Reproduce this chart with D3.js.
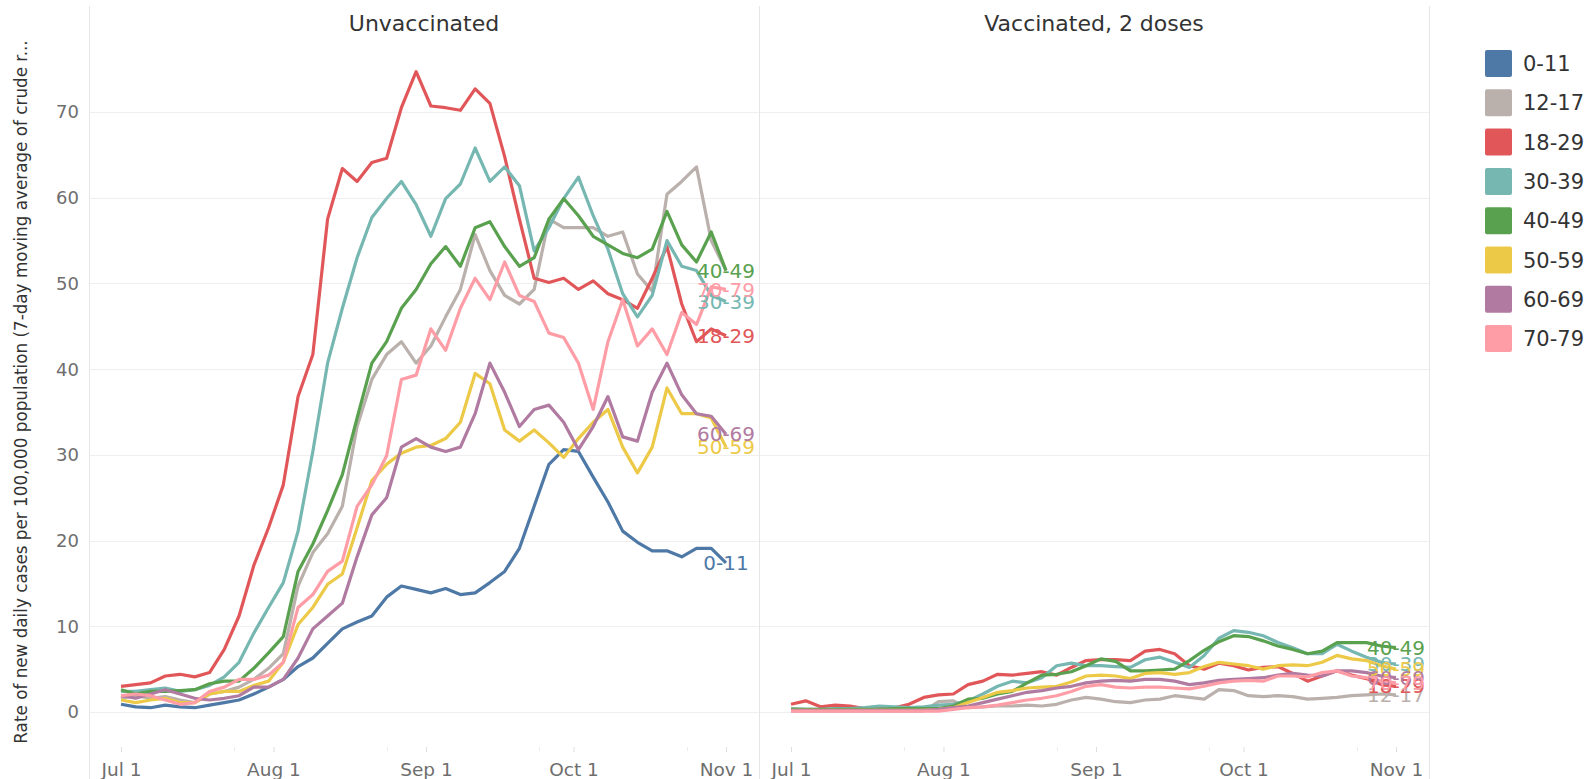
<!DOCTYPE html>
<html>
<head>
<meta charset="utf-8">
<script src="https://cdn.jsdelivr.net/npm/d3@7"></script>
<style>
  body { margin: 0; background: #fff; }
  text { font-family: "DejaVu Sans", sans-serif; }
</style>
</head>
<body>
<svg width="1588" height="779"></svg>
<script>
// dates, every third day from Jul 1 to Nov 1 2021
const dates = [
  "2021-07-01","2021-07-04","2021-07-07","2021-07-10","2021-07-13","2021-07-16","2021-07-19","2021-07-22",
  "2021-07-25","2021-07-28","2021-07-31","2021-08-03","2021-08-06","2021-08-09","2021-08-12","2021-08-15",
  "2021-08-18","2021-08-21","2021-08-24","2021-08-27","2021-08-30","2021-09-02","2021-09-05","2021-09-08",
  "2021-09-11","2021-09-14","2021-09-17","2021-09-20","2021-09-23","2021-09-26","2021-09-29","2021-10-02",
  "2021-10-05","2021-10-08","2021-10-11","2021-10-14","2021-10-17","2021-10-20","2021-10-23","2021-10-26",
  "2021-10-29","2021-11-01"
];

const ageGroups = ["0-11", "12-17", "18-29", "30-39", "40-49", "50-59", "60-69", "70-79"];
const ageColors = ["#4e79a7", "#bab0ac", "#e15759", "#76b7b2", "#59a14f", "#edc948", "#b07aa1", "#ff9da7"];

const yTicks = [0, 10, 20, 30, 40, 50, 60, 70];
const panelTitles = ["Unvaccinated", "Vaccinated, 2 doses"];

// Unvaccinated
const unvax0_11 = [0.9,0.6,0.5,0.8,0.6,0.5,0.8,1.1,1.4,2.1,2.9,3.8,5.3,6.3,8.0,9.7,
  10.5,11.2,13.4,14.7,14.3,13.9,14.4,13.7,13.9,15.1,16.4,19.1,24.0,28.9,
  30.6,30.4,27.4,24.5,21.1,19.8,18.8,18.8,18.1,19.1,19.1,17.4];
const unvax12_17 = [1.6,1.9,1.6,1.8,1.4,1.1,2.1,2.4,2.9,3.8,5.1,6.8,14.7,18.6,20.8,24.0,
  33.3,38.8,41.7,43.2,40.7,42.7,46.1,49.3,55.7,51.5,48.6,47.6,49.3,57.5,
  56.5,56.5,56.5,55.5,56.0,51.1,49.1,60.4,61.9,63.6,55.0,51.5];
const unvax18_29 = [3.0,3.2,3.4,4.2,4.4,4.1,4.6,7.3,11.2,17.1,21.5,26.5,36.8,41.7,57.5,63.4,
  61.9,64.1,64.6,70.5,74.7,70.7,70.5,70.2,72.7,71.0,64.8,57.5,50.6,50.1,
  50.6,49.3,50.3,48.8,48.1,47.1,50.6,54.3,47.6,43.2,44.7,43.9];
const unvax30_39 = [2.4,2.4,2.6,2.8,2.4,2.6,3.1,4.1,5.8,9.2,12.2,15.1,21.1,30.4,40.7,47.1,
  53.0,57.7,59.9,61.9,59.2,55.5,59.9,61.6,65.8,61.9,63.6,61.4,53.8,56.5,
  59.9,62.4,57.9,54.0,48.8,46.1,48.6,55.0,52.0,51.5,48.6,47.9];
const unvax40_49 = [2.6,2.1,2.4,2.4,2.5,2.6,3.3,3.6,3.6,5.1,6.9,8.8,16.4,19.6,23.5,27.7,
  34.3,40.7,43.2,47.1,49.3,52.3,54.3,52.0,56.5,57.2,54.3,52.0,53.0,57.5,
  59.9,57.9,55.5,54.5,53.5,53.0,54.0,58.4,54.5,52.5,56.0,51.5];
const unvax50_59 = [1.4,1.1,1.4,1.6,1.1,1.1,2.1,2.4,2.4,3.1,3.6,5.8,10.2,12.2,14.9,16.1,
  21.5,27.0,28.9,30.2,30.9,31.1,31.9,33.8,39.5,38.3,32.9,31.6,32.9,31.4,
  29.7,31.9,33.8,35.3,30.9,27.9,30.9,37.8,34.8,34.8,34.3,30.9];
const unvax60_69 = [1.9,1.6,2.1,2.6,2.1,1.6,1.4,1.6,1.9,2.9,2.9,3.8,6.3,9.7,11.2,12.7,
  18.1,23.0,25.0,30.9,31.9,30.9,30.4,30.9,34.8,40.7,37.3,33.3,35.3,35.8,
  33.8,30.6,33.3,36.8,32.1,31.6,37.3,40.7,37.0,34.8,34.5,32.4];
const unvax70_79 = [1.9,2.1,1.9,1.4,0.9,1.1,2.4,2.9,3.8,3.8,4.3,5.8,12.2,13.7,16.4,17.6,
  24.0,26.5,29.9,38.8,39.3,44.7,42.2,47.1,50.6,48.1,52.5,48.6,47.9,44.2,
  43.7,40.7,35.3,43.2,48.1,42.7,44.7,41.7,46.6,45.2,49.6,49.3];

// Vaccinated, 2 doses (no 0-11 series)
const vax12_17 = [0.1,0.1,0.1,0.1,0.1,0.1,0.1,0.1,0.1,0.1,1.2,1.3,0.5,0.6,0.7,0.7,
  0.8,0.7,0.9,1.4,1.7,1.5,1.2,1.1,1.4,1.5,1.9,1.7,1.5,2.6,
  2.5,1.9,1.8,1.9,1.8,1.5,1.6,1.7,1.9,2.0,2.1,2.0];
const vax18_29 = [0.9,1.3,0.6,0.8,0.7,0.4,0.4,0.5,0.9,1.7,2.0,2.1,3.2,3.6,4.4,4.3,
  4.5,4.7,4.3,5.2,6.0,6.1,6.1,6.0,7.1,7.3,6.8,5.4,5.0,5.7,
  5.4,4.9,5.2,5.3,4.5,3.6,4.2,4.8,4.3,3.9,3.2,3.0];
const vax30_39 = [0.4,0.3,0.3,0.4,0.4,0.5,0.7,0.6,0.5,0.6,0.8,0.9,1.3,2.1,3.0,3.6,
  3.4,4.0,5.4,5.7,5.4,5.4,5.3,5.2,6.1,6.4,5.8,5.2,6.6,8.6,
  9.5,9.3,8.9,8.1,7.5,6.8,6.8,7.9,7.1,6.4,5.8,5.6];
const vax40_49 = [0.3,0.3,0.3,0.3,0.3,0.3,0.3,0.4,0.4,0.4,0.4,0.7,1.5,1.6,2.1,2.4,
  3.4,4.3,4.4,4.7,5.4,6.2,5.9,4.8,4.8,4.9,5.0,6.0,7.2,8.2,
  8.9,8.8,8.3,7.7,7.3,6.8,7.1,8.1,8.1,8.1,7.7,7.5];
const vax50_59 = [0.2,0.2,0.2,0.2,0.2,0.2,0.2,0.2,0.2,0.2,0.3,0.5,1.1,1.7,2.3,2.5,
  2.8,2.9,3.0,3.5,4.2,4.3,4.2,3.9,4.5,4.6,4.4,4.6,5.3,5.8,
  5.6,5.4,5.0,5.4,5.5,5.4,5.8,6.6,6.2,6.0,5.4,5.0];
const vax60_69 = [0.2,0.2,0.2,0.2,0.2,0.2,0.2,0.2,0.2,0.2,0.3,0.5,0.7,1.1,1.5,1.9,
  2.3,2.5,2.8,3.0,3.4,3.6,3.7,3.6,3.8,3.8,3.6,3.2,3.4,3.7,
  3.8,3.9,4.0,4.3,4.5,4.3,4.2,4.8,4.8,4.6,4.2,4.0];
const vax70_79 = [0.1,0.1,0.1,0.1,0.1,0.1,0.1,0.1,0.1,0.1,0.1,0.3,0.5,0.6,0.8,1.1,
  1.4,1.6,1.9,2.4,3.0,3.2,2.9,2.8,2.9,2.9,2.8,2.7,3.0,3.4,
  3.6,3.7,3.6,4.2,4.2,4.1,4.6,4.8,4.2,4.0,3.6,3.4];

const unvaxSeries = [unvax0_11, unvax12_17, unvax18_29, unvax30_39, unvax40_49, unvax50_59, unvax60_69, unvax70_79];
const vaxSeries = [null, vax12_17, vax18_29, vax30_39, vax40_49, vax50_59, vax60_69, vax70_79];

const parseDate = d3.timeParse("%Y-%m-%d");
const days = dates.map(parseDate);

const svg = d3.select("svg");
const paneTop = 6, paneBottom = 747, paneW = 670;
const paneLefts = [89, 759];

const y = d3.scaleLinear().domain([0, 70]).range([712, 112]);

const gridColor = "#efefef";

// pane dividers
[89, 759, 1429].forEach(x => {
  svg.append("line")
    .attr("x1", x + 0.5).attr("x2", x + 0.5)
    .attr("y1", paneTop).attr("y2", 779)
    .attr("stroke", "#e6e6e6").attr("stroke-width", 1);
});

// y tick labels
svg.append("g").selectAll("text")
  .data(yTicks)
  .enter().append("text")
  .attr("x", 79)
  .attr("y", d => y(d))
  .attr("dy", "0.36em")
  .attr("text-anchor", "end")
  .attr("font-size", 18)
  .attr("fill", "#6e6e6e")
  .text(d => d);

// y axis title
svg.append("text")
  .attr("transform", "translate(27,392) rotate(-90)")
  .attr("text-anchor", "middle")
  .attr("font-size", 16.8)
  .attr("fill", "#333")
  .text("Rate of new daily cases per 100,000 population (7-day moving average of crude r...");

const line = d3.line();

[unvaxSeries, vaxSeries].forEach((series, p) => {
  const x0 = paneLefts[p];
  const g = svg.append("g");
  const x = d3.scaleTime()
    .domain([days[0], days[days.length - 1]])
    .range([x0 + 32, x0 + 637]);

  // gridlines
  g.selectAll(".grid")
    .data(yTicks)
    .enter().append("line")
    .attr("x1", x0 + 1).attr("x2", x0 + paneW)
    .attr("y1", d => Math.round(y(d)) + 0.5).attr("y2", d => Math.round(y(d)) + 0.5)
    .attr("stroke", gridColor);

  // title
  g.append("text")
    .attr("x", x0 + paneW / 2)
    .attr("y", 31)
    .attr("text-anchor", "middle")
    .attr("font-size", 22)
    .attr("fill", "#333")
    .text(panelTitles[p]);

  // x axis
  const axis = d3.axisBottom(x)
    .ticks(d3.timeMonth.every(1))
    .tickFormat(d3.timeFormat("%b %-d"))
    .tickSize(5)
    .tickSizeOuter(0);
  const ax = g.append("g").attr("transform", `translate(0,${paneBottom})`).call(axis);
  ax.select(".domain").remove();
  ax.selectAll(".tick line").attr("stroke", "#dedede");
  ax.selectAll(".tick text")
    .attr("y", 29).attr("dy", null)
    .attr("font-size", 18.5)
    .attr("font-family", "DejaVu Sans, sans-serif")
    .attr("fill", "#6e6e6e");

  // minor ticks
  const minor = [new Date(2021, 6, 24), new Date(2021, 7, 24), new Date(2021, 8, 24), new Date(2021, 9, 24)];
  g.selectAll(".minor")
    .data(minor)
    .enter().append("line")
    .attr("x1", d => Math.round(x(d)) + 0.5).attr("x2", d => Math.round(x(d)) + 0.5)
    .attr("y1", paneBottom).attr("y2", paneBottom + 4)
    .attr("stroke", "#ececec");

  // lines
  series.forEach((vals, i) => {
    if (!vals) return;
    g.append("path")
      .datum(vals)
      .attr("fill", "none")
      .attr("stroke", ageColors[i])
      .attr("stroke-width", 3.2)
      .attr("stroke-linejoin", "round")
      .attr("d", line.x((d, j) => x(days[j])).y(d => y(d)));
  });

  // end labels (they overlap in the original too)
  series.forEach((vals, i) => {
    if (!vals) return;
    if (p === 0 && i === 1) return; // 12-17 label is not shown on the left pane
    const last = vals[vals.length - 1];
    g.append("text")
      .attr("x", x(days[days.length - 1]))
      .attr("y", y(last))
      .attr("dy", "0.36em")
      .attr("text-anchor", "middle")
      .attr("font-size", 20)
      .attr("fill", ageColors[i])
      .text(ageGroups[i]);
  });
});

// legend
const legend = svg.append("g").attr("transform", "translate(1485,50)");
const item = legend.selectAll("g")
  .data(ageGroups)
  .enter().append("g")
  .attr("transform", (d, i) => `translate(0,${i * 39.3})`);
item.append("rect")
  .attr("width", 27).attr("height", 27).attr("rx", 2)
  .attr("fill", (d, i) => ageColors[i]);
item.append("text")
  .attr("x", 38).attr("y", 13.5)
  .attr("dy", "0.36em")
  .attr("font-size", 21)
  .attr("fill", "#333")
  .text(d => d);
</script>
</body>
</html>
